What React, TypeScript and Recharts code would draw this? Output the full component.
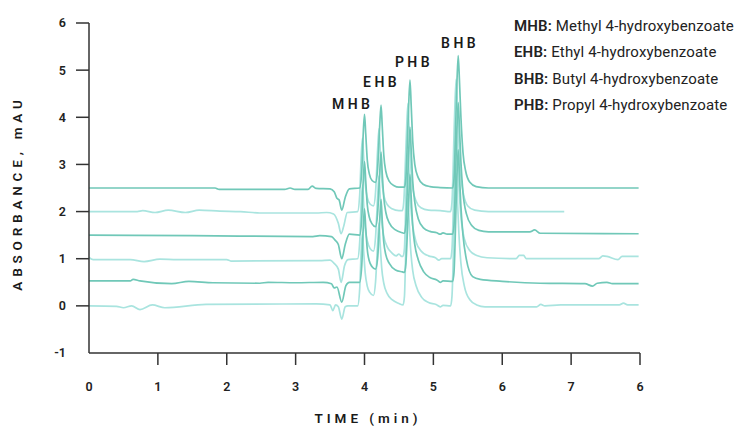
import React from 'react';
import { LineChart, Line, XAxis, YAxis, ReferenceDot } from 'recharts';

const xTicks = [0, 1, 2, 3, 4, 5, 6, 7, 8];
const xTickLabels = ['0', '1', '2', '3', '4', '5', '6', '7', '6'];
const yTicks = [-1, 0, 1, 2, 3, 4, 5, 6];

const DARK = '#70c8b8';
const LIGHT = '#a9e4df';
const FONT = 'Roboto, "DejaVu Sans", sans-serif';

// trace 1 (top, dark, baseline 2.5)
const trace1: number[][] = [
  [0, 2.5], [1.83, 2.5], [1.89, 2.47], [2.84, 2.47], [2.92, 2.5], [2.99, 2.47], [3.18, 2.47], [3.24, 2.54],
  [3.3, 2.49], [3.5, 2.48], [3.56, 2.42], [3.6, 2.28], [3.63, 2.25], [3.67, 2.03], [3.72, 2.3], [3.78, 2.48],
  [3.93, 2.5], [3.96, 2.85], [3.98, 3.6], [4.0, 4.06], [4.018, 3.65], [4.04, 3.1], [4.07, 2.8], [4.11, 2.66],
  [4.16, 2.62], [4.19, 2.9], [4.22, 3.8], [4.24, 4.26], [4.258, 3.8], [4.28, 3.2], [4.31, 2.85], [4.36, 2.64],
  [4.43, 2.55], [4.5, 2.52], [4.58, 2.52], [4.6, 2.7], [4.635, 4.0], [4.66, 4.79], [4.678, 4.25], [4.7, 3.5],
  [4.73, 3.0], [4.78, 2.72], [4.85, 2.58], [4.95, 2.53], [5.1, 2.51], [5.28, 2.5], [5.3, 2.7], [5.335, 4.4],
  [5.36, 5.31], [5.378, 4.8], [5.4, 4.0], [5.43, 3.25], [5.47, 2.85], [5.53, 2.62], [5.62, 2.53], [5.8, 2.5],
  [7.98, 2.5],
];

// trace 2 (light, baseline 2.0, shorter run)
const trace2: number[][] = [
  [0, 2.0], [0.7, 2.0], [0.78, 2.02], [0.96, 1.98], [1.15, 2.03], [1.4, 1.98], [1.6, 2.03], [1.9, 2.01],
  [2.2, 2.0], [2.48, 1.97], [3.3, 1.97], [3.45, 1.98], [3.55, 1.95], [3.62, 1.75], [3.66, 1.53], [3.7, 1.7],
  [3.75, 1.98], [3.9, 2.0], [3.93, 2.35], [3.95, 3.1], [3.97, 3.56], [3.988, 3.15], [4.01, 2.6], [4.04, 2.3],
  [4.08, 2.16], [4.13, 2.12], [4.16, 2.4], [4.19, 3.3], [4.21, 3.76], [4.228, 3.3], [4.25, 2.7], [4.28, 2.35],
  [4.33, 2.15], [4.4, 2.06], [4.5, 2.02], [4.55, 2.02], [4.57, 2.2], [4.605, 3.5], [4.63, 4.29], [4.648, 3.75],
  [4.67, 3.0], [4.7, 2.5], [4.75, 2.22], [4.82, 2.08], [4.93, 2.03], [5.1, 2.02], [5.25, 2.0], [5.27, 2.2],
  [5.305, 3.9], [5.33, 4.81], [5.348, 4.3], [5.37, 3.5], [5.4, 2.75], [5.44, 2.35], [5.5, 2.12], [5.6, 2.03],
  [5.8, 2.0], [6.9, 2.0],
];

// trace 3 (dark, baseline 1.5)
const trace3: number[][] = [
  [0, 1.5], [1.5, 1.49], [3.25, 1.47], [3.35, 1.49], [3.52, 1.47], [3.57, 1.4], [3.62, 1.3], [3.67, 1.0],
  [3.72, 1.3], [3.78, 1.52], [3.93, 1.5], [3.96, 1.85], [3.98, 2.6], [4.0, 3.06], [4.018, 2.65], [4.04, 2.15],
  [4.07, 1.88], [4.11, 1.74], [4.16, 1.68], [4.19, 1.95], [4.22, 2.8], [4.24, 3.26], [4.258, 2.8], [4.28, 2.3],
  [4.31, 1.98], [4.36, 1.76], [4.45, 1.61], [4.55, 1.55], [4.58, 1.54], [4.6, 1.72], [4.635, 3.0], [4.66, 3.79],
  [4.678, 3.3], [4.7, 2.65], [4.73, 2.2], [4.78, 1.85], [4.86, 1.65], [4.95, 1.58], [5.05, 1.55], [5.1, 1.52],
  [5.14, 1.55], [5.2, 1.52], [5.28, 1.52], [5.3, 1.72], [5.335, 3.4], [5.36, 4.31], [5.378, 3.8], [5.4, 3.05],
  [5.43, 2.4], [5.48, 1.95], [5.56, 1.7], [5.66, 1.6], [5.8, 1.57], [6.4, 1.57], [6.47, 1.61], [6.55, 1.54],
  [7.98, 1.53],
];

// trace 4 (light, baseline 1.0)
const trace4: number[][] = [
  [0, 1.03], [0.06, 0.98], [0.6, 0.98], [0.8, 0.94], [1.03, 0.99], [1.28, 0.98], [2.0, 0.98], [2.06, 0.95],
  [3.35, 0.96], [3.5, 0.97], [3.56, 0.9], [3.62, 0.78], [3.66, 0.5], [3.71, 0.85], [3.76, 0.98], [3.9, 1.0],
  [3.93, 1.35], [3.95, 2.1], [3.97, 2.56], [3.988, 2.15], [4.01, 1.65], [4.04, 1.38], [4.08, 1.22], [4.13, 1.16],
  [4.16, 1.45], [4.19, 2.3], [4.21, 2.76], [4.228, 2.3], [4.25, 1.8], [4.28, 1.48], [4.33, 1.25], [4.4, 1.12],
  [4.46, 1.06], [4.5, 1.1], [4.54, 1.05], [4.56, 1.05], [4.58, 1.22], [4.605, 2.5], [4.63, 3.29], [4.648, 2.8],
  [4.67, 2.15], [4.7, 1.7], [4.75, 1.35], [4.83, 1.15], [4.93, 1.06], [5.03, 1.02], [5.08, 0.97], [5.12, 1.0],
  [5.25, 1.0], [5.27, 1.2], [5.305, 2.9], [5.33, 3.81], [5.348, 3.3], [5.37, 2.55], [5.4, 1.9], [5.45, 1.42],
  [5.53, 1.17], [5.63, 1.07], [5.78, 1.02], [6.2, 1.0], [6.25, 1.07], [6.31, 1.07], [6.35, 1.0], [7.4, 1.0],
  [7.46, 1.06], [7.52, 1.05], [7.68, 0.98], [7.74, 1.05], [7.98, 1.05],
];

// trace 5 (dark, baseline 0.5)
const trace5: number[][] = [
  [0, 0.53], [0.6, 0.53], [0.64, 0.56], [0.74, 0.53], [1.2, 0.47], [1.45, 0.52], [1.8, 0.49], [2.48, 0.48],
  [2.6, 0.5], [3.0, 0.49], [3.4, 0.5], [3.52, 0.47], [3.56, 0.38], [3.6, 0.4], [3.67, 0.08], [3.73, 0.43],
  [3.78, 0.5], [3.93, 0.5], [3.96, 0.85], [3.98, 1.6], [4.0, 2.06], [4.018, 1.65], [4.04, 1.2], [4.07, 0.95],
  [4.11, 0.83], [4.16, 0.78], [4.19, 1.0], [4.22, 1.8], [4.24, 2.26], [4.258, 1.8], [4.28, 1.35], [4.31, 1.08],
  [4.36, 0.9], [4.45, 0.76], [4.55, 0.72], [4.58, 0.71], [4.6, 0.88], [4.635, 2.0], [4.66, 2.79], [4.678, 2.3],
  [4.7, 1.7], [4.73, 1.3], [4.78, 0.98], [4.86, 0.72], [4.95, 0.6], [5.05, 0.55], [5.1, 0.5], [5.14, 0.53],
  [5.28, 0.52], [5.3, 0.72], [5.335, 2.4], [5.36, 3.31], [5.378, 2.8], [5.4, 2.1], [5.43, 1.5], [5.48, 0.98],
  [5.57, 0.62], [5.68, 0.56], [6.0, 0.52], [6.55, 0.48], [7.2, 0.47], [7.31, 0.42], [7.38, 0.48], [7.52, 0.5],
  [7.6, 0.47], [7.98, 0.47],
];

// trace 6 (bottom, light, baseline 0)
const trace6: number[][] = [
  [0, 0.0], [0.4, -0.01], [0.5, -0.04], [0.62, 0.0], [0.74, -0.08], [0.92, 0.02], [1.1, -0.04], [1.7, 0.03],
  [3.3, 0.04], [3.5, 0.02], [3.54, -0.1], [3.58, 0.02], [3.62, -0.02], [3.67, -0.28], [3.72, -0.02], [3.76, 0.0],
  [3.9, 0.0], [3.93, 0.35], [3.95, 1.1], [3.97, 1.56], [3.988, 1.15], [4.01, 0.7], [4.04, 0.42], [4.08, 0.28],
  [4.13, 0.22], [4.16, 0.5], [4.19, 1.3], [4.21, 1.76], [4.228, 1.3], [4.25, 0.8], [4.28, 0.48], [4.33, 0.26],
  [4.4, 0.13], [4.5, 0.05], [4.56, 0.02], [4.58, 0.2], [4.605, 1.5], [4.63, 2.29], [4.648, 1.8], [4.67, 1.2],
  [4.7, 0.75], [4.75, 0.42], [4.83, 0.18], [4.93, 0.07], [5.04, 0.03], [5.1, -0.02], [5.14, 0.01], [5.25, 0.0],
  [5.27, 0.2], [5.305, 1.9], [5.33, 2.81], [5.348, 2.3], [5.37, 1.55], [5.4, 0.9], [5.45, 0.42], [5.53, 0.13],
  [5.63, 0.02], [5.75, -0.02], [6.5, -0.02], [6.56, 0.03], [6.62, 0.0], [6.85, 0.02], [7.7, 0.02], [7.76, 0.06],
  [7.82, 0.02], [7.98, 0.02],
];

const peakLabels = ['MHB', 'EHB', 'PHB', 'BHB'];
const peakLabelT = [3.8, 4.22, 4.69, 5.36];
const peakLabelV = [4.28, 4.75, 5.17, 5.58];

const legendAbbr = ['MHB:', 'EHB:', 'BHB:', 'PHB:'];
const legendNames = [
  'Methyl 4-hydroxybenzoate',
  'Ethyl 4-hydroxybenzoate',
  'Butyl 4-hydroxybenzoate',
  'Propyl 4-hydroxybenzoate',
];

const toRows = (arr: number[][]) => arr.map(([t, v]) => ({ t, v }));

const series = [
  { data: toRows(trace2), color: LIGHT },
  { data: toRows(trace4), color: LIGHT },
  { data: toRows(trace6), color: LIGHT },
  { data: toRows(trace1), color: DARK },
  { data: toRows(trace3), color: DARK },
  { data: toRows(trace5), color: DARK },
];

const AXIS = '#333333';
const X_TICK_SIZE = 12;
const X_TICK_MARGIN = 17;
const Y_TICK_SIZE = 13;
const Y_TICK_MARGIN = 10;

const XTick = (props: any) => {
  const { x, y, payload, index } = props;
  const lineBottom = y - X_TICK_MARGIN;
  return (
    <g>
      {payload.value !== 0 && (
        <line x1={x} x2={x} y1={lineBottom - X_TICK_SIZE} y2={lineBottom} stroke={AXIS} strokeWidth={1.5} />
      )}
      <text x={x} y={y} dy="0.71em" textAnchor="middle" fontFamily={FONT} fontSize={12.5} fontWeight={600} fill="#222">
        {xTickLabels[index]}
      </text>
    </g>
  );
};

const YTick = (props: any) => {
  const { x, y, payload } = props;
  const lineLeft = x + Y_TICK_MARGIN;
  return (
    <g>
      {payload.value !== -1 && (
        <line x1={lineLeft} x2={lineLeft + Y_TICK_SIZE} y1={y} y2={y} stroke={AXIS} strokeWidth={1.5} />
      )}
      <text x={x} y={y} dy="0.355em" textAnchor="end" fontFamily={FONT} fontSize={12.5} fontWeight={600} fill="#222">
        {payload.value}
      </text>
    </g>
  );
};

export default function App() {
  return (
    <div style={{ position: 'absolute', left: 0, top: 0, width: 739, height: 427, background: '#fff', fontFamily: FONT }}>
      <LineChart width={739} height={427} margin={{ top: 23, right: 99, bottom: 0, left: 0 }}>
        <XAxis
          type="number"
          dataKey="t"
          domain={[0, 8]}
          ticks={xTicks}
          interval={0}
          height={74}
          tickSize={X_TICK_SIZE}
          tickMargin={X_TICK_MARGIN}
          tickLine={false}
          axisLine={{ stroke: AXIS, strokeWidth: 1.5 }}
          tick={<XTick />}
          allowDataOverflow
        />
        <YAxis
          type="number"
          dataKey="v"
          domain={[-1, 6]}
          ticks={yTicks}
          interval={0}
          width={89}
          tickSize={Y_TICK_SIZE}
          tickMargin={Y_TICK_MARGIN}
          tickLine={false}
          axisLine={{ stroke: AXIS, strokeWidth: 1.5 }}
          tick={<YTick />}
          allowDataOverflow
        />
        {series.map((s, i) => (
          <Line
            key={i}
            data={s.data}
            dataKey="v"
            type="monotone"
            stroke={s.color}
            strokeWidth={1.7}
            dot={false}
            activeDot={false}
            isAnimationActive={false}
          />
        ))}
        {peakLabels.map((lab, i) => (
          <ReferenceDot
            key={lab}
            x={peakLabelT[i]}
            y={peakLabelV[i]}
            r={0}
            ifOverflow="visible"
            shape={(p: any) => (
              <text
                x={p.cx + 2}
                y={p.cy}
                dy="0.355em"
                textAnchor="middle"
                fontFamily={FONT}
                fontSize={14}
                fontWeight={600}
                letterSpacing={3.5}
                fill="#1a1a1a"
              >
                {lab}
              </text>
            )}
          />
        ))}
      </LineChart>
      <svg width={739} height={427} style={{ position: 'absolute', left: 0, top: 0, pointerEvents: 'none' }}>
        <text
          x={0}
          y={0}
          transform="translate(22,193) rotate(-90)"
          textAnchor="middle"
          fontFamily={FONT}
          fontSize={13.5}
          fontWeight={600}
          letterSpacing={4.8}
          fill="#1a1a1a"
        >
          ABSORBANCE, mAU
        </text>
        <text
          x={368}
          y={423}
          textAnchor="middle"
          fontFamily={FONT}
          fontSize={13.5}
          fontWeight={600}
          letterSpacing={4}
          fill="#1a1a1a"
        >
          TIME (min)
        </text>
      </svg>
      <div style={{ position: 'absolute', left: 514, top: 13, lineHeight: '26.3px', fontSize: 15, letterSpacing: 0.15, color: '#222', whiteSpace: 'nowrap' }}>
        {legendAbbr.map((a, i) => (
          <div key={a}>
            <span style={{ fontWeight: 600 }}>{a}</span> {legendNames[i]}
          </div>
        ))}
      </div>
    </div>
  );
}
